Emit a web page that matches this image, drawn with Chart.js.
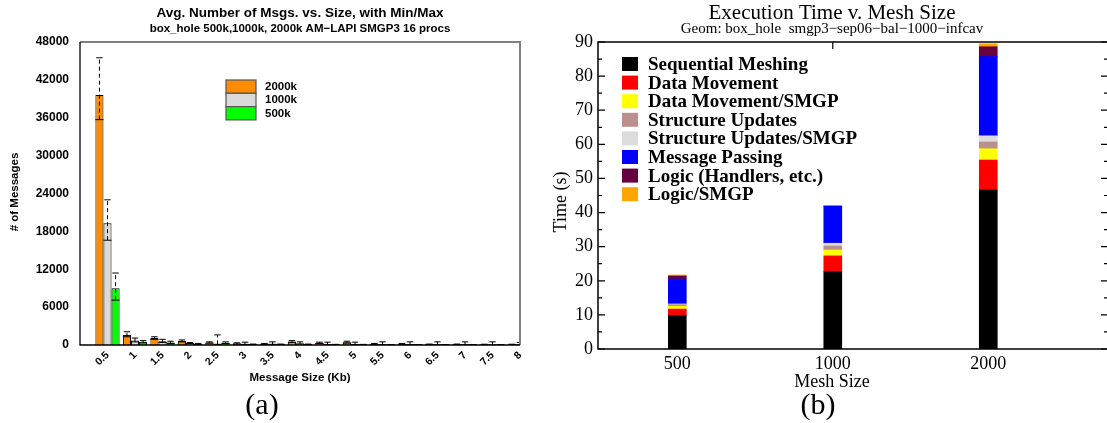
<!DOCTYPE html>
<html>
<head>
<meta charset="utf-8">
<script src="https://cdn.jsdelivr.net/npm/chart.js@4"></script>
<style>
  body { margin: 0; width: 1107px; height: 423px; overflow: hidden; background: #fff; position: relative; }
  #wrapA { position: absolute; left: 0; top: 0; width: 540px; height: 423px; }
  #wrapB { position: absolute; left: 540px; top: 0; width: 580px; height: 423px; }
</style>
</head>
<body>
<div id="wrapA"><canvas id="msgChart" width="540" height="423"></canvas></div>
<div id="wrapB"><canvas id="timeChart" width="580" height="423"></canvas></div>
<script>
// (a) avg number of messages per message size, with min/max
var sizes = [0.5, 1, 1.5, 2, 2.5, 3, 3.5, 4, 4.5, 5, 5.5, 6, 6.5, 7, 7.5, 8];
var sizeLabels = ['0.5','1','1.5','2','2.5','3','3.5','4','4.5','5','5.5','6','6.5','7','7.5','8'];
var avg2000k = [39600, 1600, 1100, 650, 400, 250, 150, 550, 350, 450, 150, 150, 100, 100, 80, 80];
var min2000k = [35700, 1300, 900, 500, 300, 150, 100, 400, 250, 300, 100, 100, 60, 60, 50, 50];
var max2000k = [45500, 2100, 1300, 800, 500, 350, 250, 700, 450, 600, 250, 250, 150, 150, 120, 120];
var avg1000k = [19300, 700, 600, 300, 200, 150, 200, 250, 100, 120, 80, 80, 60, 60, 50, 50];
var min1000k = [16600, 500, 400, 200, 100, 100, 100, 150, 50, 80, 50, 50, 40, 40, 30, 30];
var max1000k = [23000, 1100, 900, 400, 1600, 450, 500, 500, 450, 450, 500, 500, 500, 500, 500, 400];
var avg500k = [9000, 500, 400, 150, 350, 80, 100, 80, 60, 60, 50, 50, 40, 40, 30, 30];
var min500k = [7100, 350, 250, 100, 250, 50, 50, 50, 40, 40, 30, 30, 20, 20, 20, 20];
var max500k = [11400, 700, 600, 250, 500, 150, 150, 150, 100, 100, 80, 80, 60, 60, 50, 50];
var msgTicks = [0, 6000, 12000, 18000, 24000, 30000, 36000, 42000, 48000];

// (b) execution time breakdown per mesh size
var meshPos = [1, 2, 3];
var meshLabels = ['500', '1000', '2000'];
var phaseNames = ['Sequential Meshing', 'Data Movement', 'Data Movement/SMGP', 'Structure Updates',
                  'Structure Updates/SMGP', 'Message Passing', 'Logic (Handlers, etc.)', 'Logic/SMGP'];
var seqMeshing   = [9.8, 22.7, 46.6];
var dataMove     = [1.9, 4.6, 8.8];
var dataMoveSmgp = [0.8, 1.7, 3.3];
var structUpd    = [0.5, 1.2, 2.0];
var structUpdSmgp= [0.2, 0.8, 1.8];
var msgPassing   = [7.3, 10.9, 23.2];
var logicHandl   = [0.9, 0, 2.9];
var logicSmgp    = [0.3, 0, 0.9];

var phaseColors = ['#000000', '#ff0000', '#ffff00', '#bc8f8f', '#dcdcdc', '#0000ff', '#67003f', '#ffa500'];

var sansB = function(px) { return 'bold ' + px + 'px "Liberation Sans", Arial, sans-serif'; };
var serif = function(px, w) { return (w || '') + ' ' + px + 'px "Liberation Serif", "Times New Roman", serif'; };

function pts(xs, ys) {
  var out = [];
  for (let i = 0; i < xs.length; i++) out.push({x: xs[i], y: ys[i]});
  return out;
}

// ---------- chart (a) ----------
var errorBars = {
  id: 'errorBars',
  afterDatasetsDraw: function(chart) {
    var ctx = chart.ctx, ys = chart.scales.y, a = chart.chartArea;
    ctx.save();
    ctx.beginPath();
    ctx.rect(a.left, a.top, a.right - a.left, a.bottom - a.top);
    ctx.clip();
    ctx.strokeStyle = '#000';
    ctx.lineWidth = 1;
    chart.data.datasets.forEach(function(ds, d) {
      var meta = chart.getDatasetMeta(d);
      meta.data.forEach(function(bar, i) {
        var lo = ys.getPixelForValue(ds.errMin[i]);
        var hi = ys.getPixelForValue(ds.errMax[i]);
        var w = bar.width / 2;
        ctx.setLineDash([4, 3]);
        ctx.beginPath(); ctx.moveTo(bar.x, lo); ctx.lineTo(bar.x, hi); ctx.stroke();
        ctx.setLineDash([]);
        ctx.beginPath();
        ctx.moveTo(bar.x - w * 0.8, hi); ctx.lineTo(bar.x + w * 0.8, hi);
        ctx.moveTo(bar.x - w, lo); ctx.lineTo(bar.x + w, lo);
        ctx.stroke();
      });
    });
    ctx.restore();
  }
};

var decorA = {
  id: 'decorA',
  afterDraw: function(chart) {
    var ctx = chart.ctx, a = chart.chartArea;
    ctx.save();
    // frame
    ctx.strokeStyle = '#808080'; ctx.lineWidth = 2;
    ctx.beginPath(); ctx.moveTo(a.left, a.top); ctx.lineTo(a.right, a.top); ctx.lineTo(a.right, a.bottom); ctx.stroke();
    ctx.strokeStyle = '#000'; ctx.lineWidth = 1.3;
    ctx.beginPath(); ctx.moveTo(a.left, a.top); ctx.lineTo(a.left, a.bottom); ctx.lineTo(a.right, a.bottom); ctx.stroke();

    ctx.fillStyle = '#000';
    ctx.textAlign = 'center'; ctx.textBaseline = 'middle';
    var cx = (a.left + a.right) / 2;
    ctx.font = sansB(13.5);
    ctx.fillText('Avg. Number of Msgs. vs. Size, with Min/Max', cx, 13);
    ctx.font = sansB(11.5);
    ctx.fillText('box_hole 500k,1000k, 2000k AM\u2212LAPI SMGP3 16 procs', cx, 29);
    ctx.font = sansB(11.5);
    ctx.fillText('Message Size (Kb)', cx, 378);
    ctx.save();
    ctx.translate(15, 192); ctx.rotate(-Math.PI / 2);
    ctx.fillText('# of Messages', 0, 0);
    ctx.restore();
    ctx.font = serif(30);
    ctx.fillText('(a)', 262, 406);

    // legend
    var ds = chart.data.datasets;
    ctx.textAlign = 'left';
    ctx.font = sansB(11.5);
    for (let i = 0; i < ds.length; i++) {
      var y = 80 + i * 13.3;
      ctx.fillStyle = ds[i].backgroundColor;
      ctx.fillRect(226, y, 30, 13.3);
      ctx.strokeStyle = '#555'; ctx.lineWidth = 1.2;
      ctx.strokeRect(226, y, 30, 13.3);
      ctx.fillStyle = '#000';
      ctx.fillText(ds[i].label, 265, y + 7);
    }
    ctx.restore();
  }
};

new Chart(document.getElementById('msgChart').getContext('2d'), {
  type: 'bar',
  data: {
    datasets: [
      { label: '2000k', data: pts(sizes, avg2000k), errMin: min2000k, errMax: max2000k,
        backgroundColor: '#ff8c00', borderColor: '#000', borderWidth: 1 },
      { label: '1000k', data: pts(sizes, avg1000k), errMin: min1000k, errMax: max1000k,
        backgroundColor: '#dadada', borderColor: '#000', borderWidth: 1 },
      { label: '500k', data: pts(sizes, avg500k), errMin: min500k, errMax: max500k,
        backgroundColor: '#00ff00', borderColor: '#000', borderWidth: 1 }
    ]
  },
  options: {
    responsive: false,
    animation: false,
    devicePixelRatio: 1,
    layout: { padding: { left: 0, right: 20, top: 42, bottom: 0 } },
    datasets: { bar: { categoryPercentage: 0.88, barPercentage: 1.0 } },
    plugins: { legend: { display: false }, tooltip: { enabled: false } },
    scales: {
      x: {
        type: 'linear', min: 0, max: 8, offset: false,
        grid: { display: false, drawTicks: false },
        border: { display: false },
        afterFit: function(s) { s.height = 78; },
        ticks: {
          stepSize: 0.5, autoSkip: false, includeBounds: false,
          minRotation: 45, maxRotation: 45, padding: 4,
          color: '#000', font: { family: '"Liberation Sans", Arial', weight: 'bold', size: 10.5 },
          callback: function(v) { var k = sizes.indexOf(v); return k < 0 ? '' : sizeLabels[k]; }
        }
      },
      y: {
        min: 0, max: 48000,
        grid: { display: false, drawTicks: false },
        border: { display: false },
        afterFit: function(s) { s.width = 80; },
        afterBuildTicks: function(s) { s.ticks = msgTicks.map(function(v) { return { value: v }; }); },
        ticks: {
          padding: 11, color: '#000',
          font: { family: '"Liberation Sans", Arial', weight: 'bold', size: 12 },
          callback: function(v) { return String(v); }
        }
      }
    }
  },
  plugins: [errorBars, decorA]
});

// ---------- chart (b) ----------
var decorB = {
  id: 'decorB',
  afterDraw: function(chart) {
    var ctx = chart.ctx, a = chart.chartArea, ys = chart.scales.y, xs = chart.scales.x;
    ctx.save();
    ctx.strokeStyle = '#000'; ctx.lineWidth = 1.5;
    ctx.strokeRect(a.left, a.top, a.right - a.left, a.bottom - a.top);
    // inward ticks, major every 10 and minor every 5
    ctx.lineWidth = 1.2;
    ctx.beginPath();
    for (let v = 0; v <= 90; v += 5) {
      var y = ys.getPixelForValue(v), len = (v % 10 === 0) ? 7 : 4;
      ctx.moveTo(a.left, y); ctx.lineTo(a.left + len, y);
      ctx.moveTo(a.right, y); ctx.lineTo(a.right - len, y);
    }
    var tx = xs.getPixelForValue(2);
    ctx.moveTo(tx, a.top); ctx.lineTo(tx, a.top + 7);
    ctx.stroke();

    ctx.fillStyle = '#000';
    ctx.textAlign = 'center'; ctx.textBaseline = 'middle';
    var cx = 292;
    ctx.font = serif(21);
    ctx.fillText('Execution Time v. Mesh Size', cx, 13);
    ctx.font = serif(15);
    ctx.fillText('Geom: box_hole  smgp3\u2212sep06\u2212bal\u22121000\u2212infcav', cx, 29);
    ctx.font = serif(18);
    ctx.fillText('Mesh Size', cx, 382);
    ctx.save();
    ctx.translate(21, 202); ctx.rotate(-Math.PI / 2);
    ctx.fillText('Time (s)', 0, 0);
    ctx.restore();
    ctx.font = serif(30);
    ctx.fillText('(b)', 278, 406);

    // legend
    var ds = chart.data.datasets;
    ctx.textAlign = 'left';
    ctx.font = serif(19, 'bold');
    for (let i = 0; i < ds.length; i++) {
      var ly = 64 + i * 18.6;
      ctx.fillStyle = ds[i].backgroundColor;
      ctx.fillRect(82, ly - 7, 16, 14);
      ctx.fillStyle = '#000';
      ctx.fillText(ds[i].label, 108, ly + 1);
    }
    ctx.restore();
  }
};

var phaseValues = [seqMeshing, dataMove, dataMoveSmgp, structUpd, structUpdSmgp, msgPassing, logicHandl, logicSmgp];
var timeSets = [];
for (let i = 0; i < phaseNames.length; i++) {
  timeSets.push({
    label: phaseNames[i],
    data: pts(meshPos, phaseValues[i]),
    backgroundColor: phaseColors[i],
    borderWidth: 0,
    barThickness: 18
  });
}

new Chart(document.getElementById('timeChart').getContext('2d'), {
  type: 'bar',
  data: { datasets: timeSets },
  options: {
    responsive: false,
    animation: false,
    devicePixelRatio: 1,
    layout: { padding: { left: 0, right: 12, top: 42, bottom: 0 } },
    plugins: { legend: { display: false }, tooltip: { enabled: false } },
    scales: {
      x: {
        type: 'linear', min: 0.49, max: 3.77, stacked: true, offset: false,
        grid: { display: false, drawTicks: false },
        border: { display: false },
        afterFit: function(s) { s.height = 74; },
        ticks: {
          stepSize: 1, includeBounds: false, autoSkip: false, maxRotation: 0, padding: 4,
          color: '#000', font: { family: '"Liberation Serif", "Times New Roman"', size: 18 },
          callback: function(v) { var k = meshPos.indexOf(v); return k < 0 ? '' : meshLabels[k]; }
        }
      },
      y: {
        min: 0, max: 90, stacked: true,
        grid: { display: false, drawTicks: false },
        border: { display: false },
        afterFit: function(s) { s.width = 58; },
        ticks: {
          stepSize: 10, padding: 5, color: '#000',
          font: { family: '"Liberation Serif", "Times New Roman"', size: 18 }
        }
      }
    }
  },
  plugins: [decorB]
});
</script>
</body>
</html>
